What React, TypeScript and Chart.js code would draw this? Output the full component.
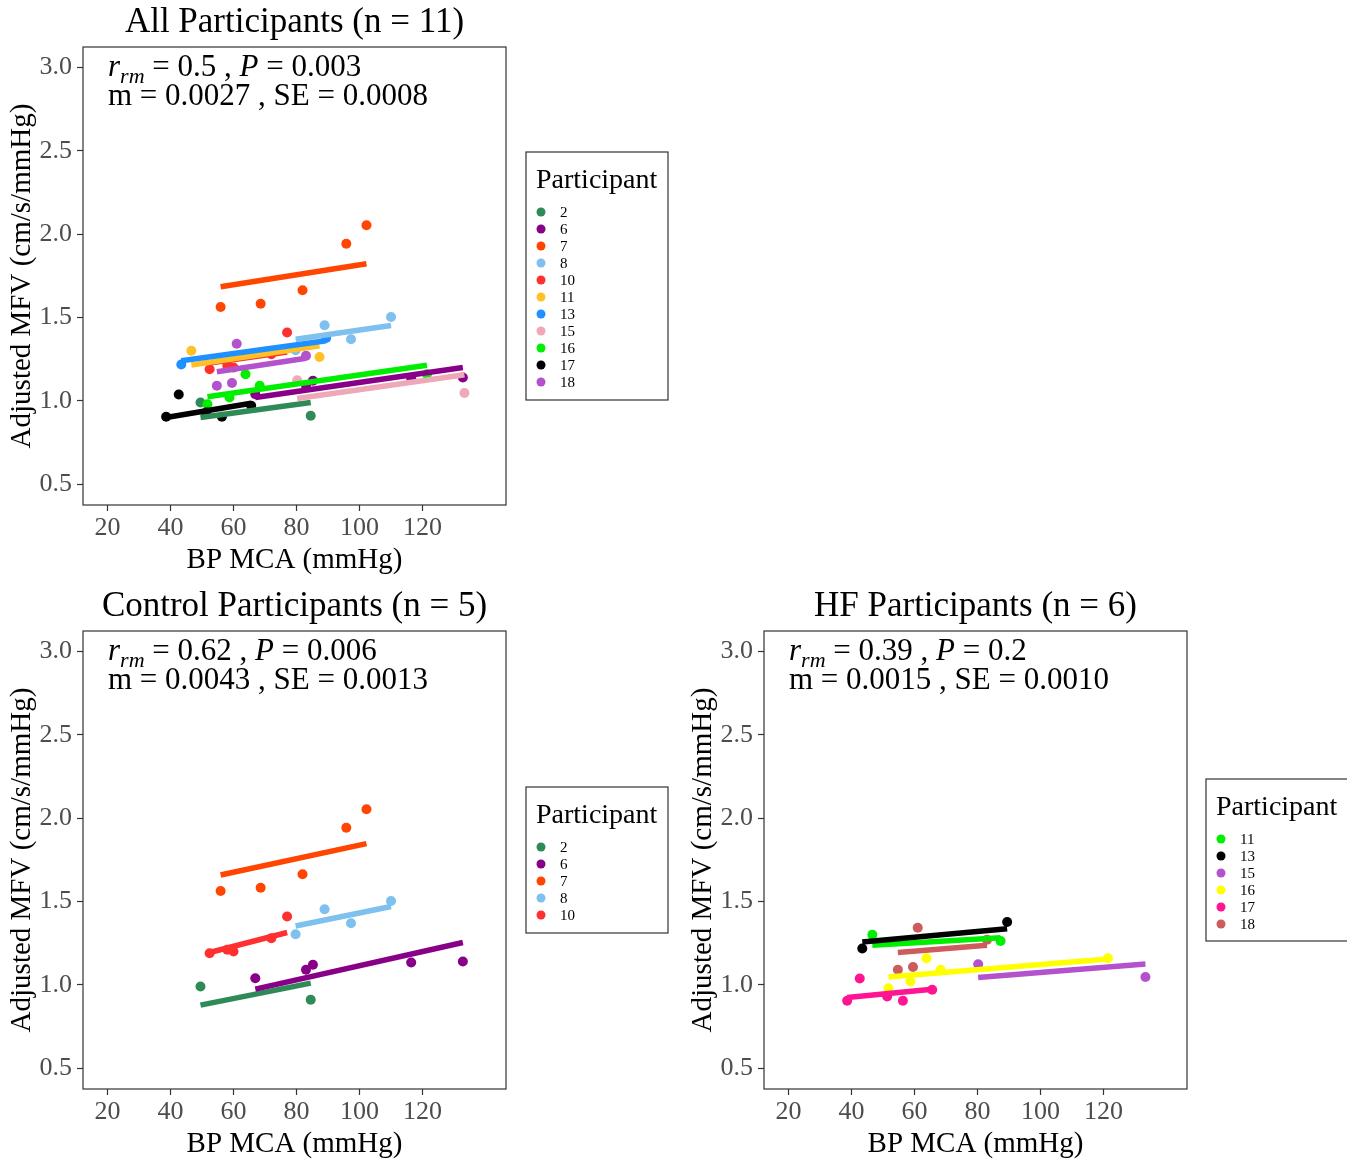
import React, { useEffect, useRef } from "react";
import { Chart, registerables } from "chart.js";

Chart.register(...registerables);

const FONT = "'Liberation Serif', 'Times New Roman', serif";

const xTicks = [20, 40, 60, 80, 100, 120];
const yTicks = [0.5, 1.0, 1.5, 2.0, 2.5, 3.0];

// Participant measurements: BP MCA (mmHg) and adjusted MFV (cm/s/mmHg)
const participantIds = ["2", "6", "7", "8", "10", "11", "13", "15", "16", "17", "18"];
const bpP2 = [49.5, 84.5];
const mfvP2 = [0.99, 0.91];
const bpP6 = [66.9, 83.0, 85.2, 116.4, 132.8];
const mfvP6 = [1.04, 1.09, 1.12, 1.134, 1.14];
const bpP7 = [55.9, 68.6, 81.9, 95.8, 102.2];
const mfvP7 = [1.563, 1.583, 1.663, 1.943, 2.053];
const bpP8 = [79.7, 88.9, 97.3, 110.0];
const mfvP8 = [1.303, 1.453, 1.369, 1.503];
const bpP10 = [52.4, 58.0, 60.0, 72.0, 77.0];
const mfvP10 = [1.19, 1.21, 1.2, 1.28, 1.41];
const bpP11 = [46.6, 87.3];
const mfvP11 = [1.3, 1.263];
const bpP13 = [43.4, 89.4];
const mfvP13 = [1.218, 1.377];
const bpP15 = [80.2, 133.3];
const mfvP15 = [1.124, 1.047];
const bpP16 = [51.7, 58.7, 63.8, 68.3, 121.4];
const mfvP16 = [0.98, 1.02, 1.16, 1.09, 1.16];
const bpP17 = [38.6, 42.6, 51.3, 56.3, 65.6];
const mfvP17 = [0.904, 1.038, 0.93, 0.904, 0.97];
const bpP18 = [54.7, 59.5, 61.0, 83.0];
const mfvP18 = [1.09, 1.107, 1.343, 1.27];

const bpValues = [bpP2, bpP6, bpP7, bpP8, bpP10, bpP11, bpP13, bpP15, bpP16, bpP17, bpP18];
const mfvValues = [mfvP2, mfvP6, mfvP7, mfvP8, mfvP10, mfvP11, mfvP13, mfvP15, mfvP16, mfvP17, mfvP18];

// All participants panel
const allMembers = ["2", "6", "7", "8", "10", "11", "13", "15", "16", "17", "18"];
const allColors = ["#2E8B57", "#880088", "#FF4500", "#7EC0EE", "#FF3030", "#FFC125", "#1E90FF", "#EEA9B8", "#00EE00", "#000000", "#B452CD"];
const allFitStart = [0.9, 1.02, 1.685, 1.37, 1.227, 1.215, 1.24, 1.014, 1.025, 0.9, 1.175];
const allFitEnd = [0.99, 1.2, 1.823, 1.452, 1.293, 1.33, 1.36, 1.156, 1.213, 0.985, 1.255];
const allStats = ["0.5", "0.003", "0.0027", "0.0008"];

// Control participants panel
const ctrlMembers = ["2", "6", "7", "8", "10"];
const ctrlColors = ["#2E8B57", "#880088", "#FF4500", "#7EC0EE", "#FF3030"];
const ctrlFitStart = [0.878, 0.974, 1.659, 1.353, 1.194];
const ctrlFitEnd = [1.01, 1.254, 1.847, 1.47, 1.314];
const ctrlStats = ["0.62", "0.006", "0.0043", "0.0013"];

// HF participants panel
const hfMembers = ["11", "13", "15", "16", "17", "18"];
const hfColors = ["#00EE00", "#000000", "#B452CD", "#FFFF00", "#FF1493", "#CD5C5C"];
const hfFitStart = [1.237, 1.257, 1.044, 1.047, 0.924, 1.194];
const hfFitEnd = [1.283, 1.337, 1.125, 1.155, 0.974, 1.237];
const hfStats = ["0.39", "0.2", "0.0015", "0.0010"];

type PanelCfg = {
  left: number;
  top: number;
  W: number;
  H: number;
  title: string;
  members: string[];
  colors: string[];
  fitStart: number[];
  fitEnd: number[];
  stats: string[];
  legend: { x: number; y: number; w: number; h: number };
};

const panels: PanelCfg[] = [
  { left: 0, top: 0, W: 680, H: 584, title: "All Participants (n = 11)", members: allMembers, colors: allColors, fitStart: allFitStart, fitEnd: allFitEnd, stats: allStats, legend: { x: 526, y: 152, w: 142, h: 248 } },
  { left: 0, top: 584, W: 680, H: 578, title: "Control Participants (n = 5)", members: ctrlMembers, colors: ctrlColors, fitStart: ctrlFitStart, fitEnd: ctrlFitEnd, stats: ctrlStats, legend: { x: 526, y: 203, w: 142, h: 146 } },
  { left: 681, top: 584, W: 666, H: 578, title: "HF Participants (n = 6)", members: hfMembers, colors: hfColors, fitStart: hfFitStart, fitEnd: hfFitEnd, stats: hfStats, legend: { x: 525, y: 195, w: 142, h: 162 } },
];

const decorPlugin = {
  id: "decor",
  afterDraw(chart: any, _args: any, opts: any) {
    const { ctx, chartArea: a } = chart;
    ctx.save();
    // panel border
    ctx.strokeStyle = "#333333";
    ctx.lineWidth = 1.2;
    ctx.strokeRect(a.left, a.top, a.right - a.left, a.bottom - a.top);
    // title
    ctx.fillStyle = "#000";
    ctx.textAlign = "center";
    ctx.textBaseline = "alphabetic";
    ctx.font = `35px ${FONT}`;
    ctx.fillText(opts.title, (a.left + a.right) / 2, a.top - 15);
    // axis titles
    ctx.font = `29px ${FONT}`;
    ctx.fillText("BP MCA (mmHg)", (a.left + a.right) / 2, a.bottom + 63);
    ctx.save();
    ctx.translate(30, (a.top + a.bottom) / 2);
    ctx.rotate(-Math.PI / 2);
    ctx.fillText("Adjusted MFV (cm/s/mmHg)", 0, 0);
    ctx.restore();
    // annotation
    ctx.textAlign = "left";
    const segs1 = [
      { t: "r", f: `italic 31px ${FONT}`, dy: 0 },
      { t: "rm", f: `italic 22px ${FONT}`, dy: 7 },
      { t: ` = ${opts.stats[0]} , `, f: `31px ${FONT}`, dy: 0 },
      { t: "P", f: `italic 31px ${FONT}`, dy: 0 },
      { t: ` = ${opts.stats[1]}`, f: `31px ${FONT}`, dy: 0 },
    ];
    let x = a.left + 25;
    const b1 = a.top + 29;
    for (const s of segs1) {
      ctx.font = s.f;
      ctx.fillText(s.t, x, b1 + s.dy);
      x += ctx.measureText(s.t).width;
    }
    ctx.font = `31px ${FONT}`;
    ctx.fillText(`m = ${opts.stats[2]} , SE = ${opts.stats[3]}`, a.left + 25, a.top + 58);
    // legend
    const L = opts.legend;
    ctx.strokeStyle = "#333333";
    ctx.lineWidth = 1.2;
    ctx.strokeRect(L.x, L.y, L.w, L.h);
    ctx.font = `28px ${FONT}`;
    ctx.fillStyle = "#000";
    ctx.fillText("Participant", L.x + 10, L.y + 36);
    ctx.font = `15px ${FONT}`;
    ctx.textBaseline = "middle";
    opts.members.forEach((m: string, k: number) => {
      const cy = L.y + 60 + 17 * k;
      ctx.beginPath();
      ctx.fillStyle = opts.colors[k];
      ctx.arc(L.x + 15, cy, 4.5, 0, Math.PI * 2);
      ctx.fill();
      ctx.fillStyle = "#000";
      ctx.fillText(m, L.x + 34, cy + 1);
    });
    ctx.restore();
  },
};

function buildDatasets(p: PanelCfg) {
  const ds: any[] = [];
  p.members.forEach((id, k) => {
    const i = participantIds.indexOf(id);
    const xs = bpValues[i];
    const ys = mfvValues[i];
    ds.push({
      type: "scatter",
      label: id,
      data: xs.map((x, j) => ({ x, y: ys[j] })),
      pointRadius: 5,
      pointBorderWidth: 0,
      pointBackgroundColor: p.colors[k],
      borderColor: p.colors[k],
      showLine: false,
      order: 200 - k,
    });
    ds.push({
      type: "line",
      label: id + " fit",
      data: [
        { x: Math.min(...xs), y: p.fitStart[k] },
        { x: Math.max(...xs), y: p.fitEnd[k] },
      ],
      borderColor: p.colors[k],
      borderWidth: 5.5,
      pointRadius: 0,
      fill: false,
      tension: 0,
      borderCapStyle: "butt",
      order: 100 - k,
    });
  });
  return ds;
}

function Panel({ p }: { p: PanelCfg }) {
  const ref = useRef<HTMLCanvasElement | null>(null);
  useEffect(() => {
    if (!ref.current) return;
    const chart = new Chart(ref.current, {
      type: "scatter",
      data: { datasets: buildDatasets(p) },
      options: {
        responsive: false,
        animation: false,
        devicePixelRatio: 1,
        layout: { padding: { left: 0, top: 47, right: p.W - 506, bottom: 0 } },
        plugins: {
          legend: { display: false },
          tooltip: { enabled: false },
          title: { display: false },
          decor: { title: p.title, stats: p.stats, legend: p.legend, members: p.members, colors: p.colors },
        } as any,
        scales: {
          x: {
            type: "linear",
            min: 12.2,
            max: 146.5,
            afterBuildTicks: (s: any) => {
              s.ticks = xTicks.map((v) => ({ value: v }));
            },
            afterFit: (s: any) => {
              s.height = p.H - 505;
            },
            grid: { drawOnChartArea: false, drawTicks: true, tickLength: 6, tickColor: "#333333", tickWidth: 1.2 },
            border: { display: false },
            ticks: { color: "#4D4D4D", font: { family: FONT, size: 26 }, padding: 2, maxRotation: 0, autoSkip: false },
          },
          y: {
            type: "linear",
            min: 0.375,
            max: 3.123,
            afterBuildTicks: (s: any) => {
              s.ticks = yTicks.map((v) => ({ value: v }));
            },
            afterFit: (s: any) => {
              s.width = 83;
            },
            grid: { drawOnChartArea: false, drawTicks: true, tickLength: 6, tickColor: "#333333", tickWidth: 1.2 },
            border: { display: false },
            ticks: {
              color: "#4D4D4D",
              font: { family: FONT, size: 26 },
              padding: 5,
              autoSkip: false,
              callback: (v: any) => Number(v).toFixed(1),
            },
          },
        },
      },
      plugins: [decorPlugin],
    } as any);
    return () => chart.destroy();
  }, [p]);
  return (
    <canvas
      ref={ref}
      width={p.W}
      height={p.H}
      style={{ position: "absolute", left: p.left, top: p.top, width: p.W, height: p.H, display: "block" }}
    />
  );
}

export default function App() {
  return (
    <div style={{ position: "absolute", left: 0, top: 0, width: 1347, height: 1162, background: "#fff", overflow: "hidden" }}>
      {panels.map((p, i) => (
        <Panel key={i} p={p} />
      ))}
    </div>
  );
}
